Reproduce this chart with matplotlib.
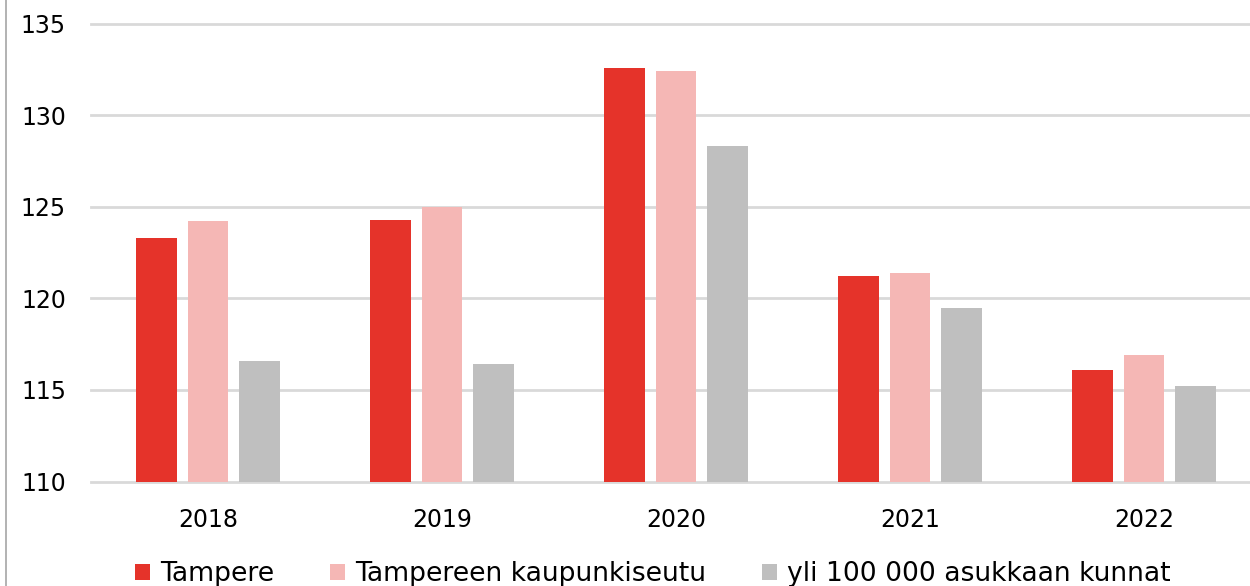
import matplotlib.pyplot as plt
import numpy as np
from matplotlib.lines import Line2D

years = ["2018", "2019", "2020", "2021", "2022"]
series_names = ["Tampere", "Tampereen kaupunkiseutu", "yli 100 000 asukkaan kunnat"]
tampere = [123.3, 124.3, 132.6, 121.2, 116.1]
seutu = [124.2, 125.0, 132.4, 121.4, 116.9]
yli100k = [116.6, 116.4, 128.3, 119.5, 115.2]
colors = ["#E5332A", "#F5B7B5", "#BFBFBF"]
yticks = [110, 115, 120, 125, 130, 135]

plt.rcParams['font.family'] = ['DejaVu Sans']

fig = plt.figure(figsize=(12.5, 5.86), dpi=100)
ax = fig.add_axes([91 / 1250, 104.5 / 586, 1 - 91 / 1250, 457.8 / 586])

x = np.arange(len(years))
w = 0.175
step = 0.222
for i, (vals, c) in enumerate(zip([tampere, seutu, yli100k], colors)):
    ax.bar(x + (i - 1) * step, np.array(vals) - 110, width=w, bottom=110,
           color=c, zorder=3, label=series_names[i])

ax.set_ylim(110, 135)
ax.set_xlim(-0.5, -0.5 + (1250 - 91) / 234)
ax.set_yticks(yticks)
ax.set_yticklabels([str(t) for t in yticks], fontsize=17)
ax.set_xticks(x)
ax.set_xticklabels(years, fontsize=17)
ax.tick_params(axis='y', length=0, pad=18)
ax.tick_params(axis='x', length=0, pad=19)
ax.grid(axis='y', color="#D9D9D9", linewidth=2, zorder=0)
ax.set_axisbelow(True)
for gl in ax.get_ygridlines():
    gl.set_clip_on(False)
for s in ax.spines.values():
    s.set_visible(False)

# left border of the chart frame
fig.add_artist(Line2D([5.5 / 1250, 5.5 / 1250], [0, 1], color="#A6A6A6", linewidth=1.2))

leg = fig.legend(loc='center', bbox_to_anchor=(0.5224, 0.02), ncol=3, frameon=False,
                 fontsize=19.2, handlelength=0.56, handleheight=0.56, handletextpad=0.38,
                 columnspacing=2.1, borderpad=0)

fig.savefig("out.png", dpi=100)
